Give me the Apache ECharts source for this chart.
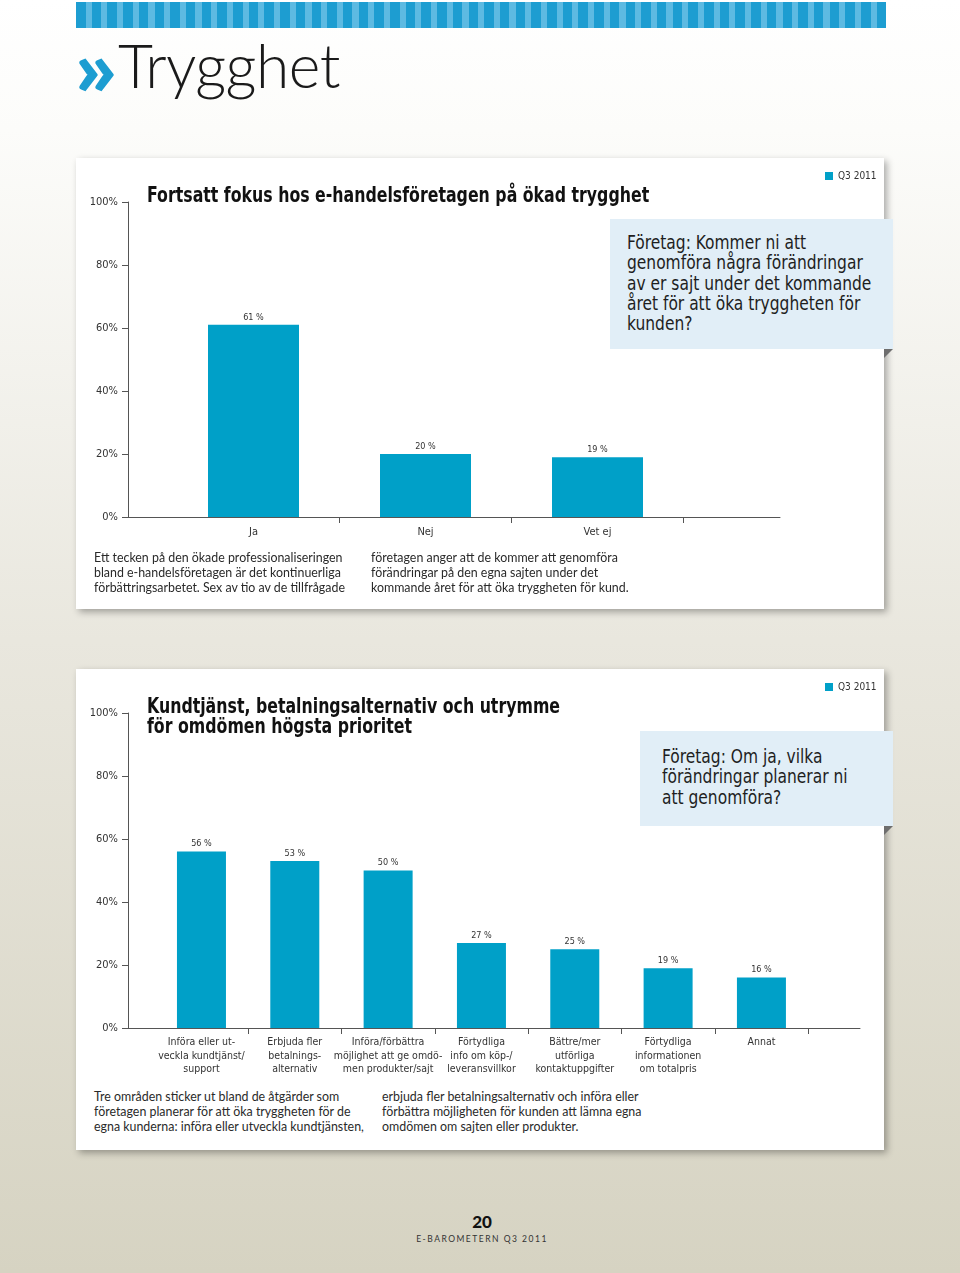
<!DOCTYPE html>
<html>
<head>
<meta charset="utf-8">
<script src="https://cdn.jsdelivr.net/npm/echarts@6/dist/echarts.min.js"></script>
<style>
  html, body { margin:0; padding:0; }
  body { width:960px; height:1273px; position:relative; overflow:hidden;
    background: linear-gradient(to bottom, #ffffff 0px, #fcfcfa 130px, #e9e7de 640px, #d6d3c2 1273px);
    font-family: 'DejaVu Sans Condensed', 'Liberation Sans Narrow', sans-serif; color:#222; }
  .abs { position:absolute; }
  #stripe { left:76px; top:2px; width:810px; height:26px;
    background: repeating-linear-gradient(to right, #1d9dd1 0px, #1d9dd1 9.5px, #5dbae2 9.5px, #5dbae2 15.7px); }
  #chev { left:74px; top:26px; font-family:'Lato','Roboto',sans-serif; font-weight:900; font-size:78px; line-height:80px; color:#1d9dd1; transform:scaleX(1.2); transform-origin:0 0; }
  #head { left:118px; top:20px; font-family:'Lato','Roboto',sans-serif; font-weight:300; font-size:60.5px; line-height:90px; color:#1a1a1a; letter-spacing:-0.5px; }
  .card { background:#fff; box-shadow: 3px 3px 7px rgba(0,0,0,0.32); }
  .qbox { background:#e1eef7; color:#1e1e1e; }
  .qtxt { font-size:20px; line-height:20.3px; white-space:nowrap; transform:scaleX(0.86); transform-origin:0 0; }
  .fold { width:0; height:0; border-top:9px solid #6e6e6e; border-right:9px solid transparent; }
  .para { font-family:'Lato','Roboto',sans-serif; font-size:12.4px; line-height:15px; color:#2a2a2a; white-space:nowrap; }
  #pg { left:0; width:964px; text-align:center; top:1211px; font-family:'Lato','Roboto',sans-serif; font-weight:900; font-size:17px; color:#111; }
  #pub { left:0; width:964px; text-align:center; top:1234px; font-family:'Lato','Roboto',sans-serif; font-size:8.5px; letter-spacing:1.5px; color:#333; }
</style>
</head>
<body>
<div id="stripe" class="abs"></div>
<div id="chev" class="abs">»</div>
<div id="head" class="abs">Trygghet</div>

<div class="abs card" style="left:76px;top:158px;width:808px;height:451px;"></div>
<div class="abs card" style="left:76px;top:669px;width:808px;height:481px;"></div>

<div id="c1" class="abs" style="left:76px;top:158px;width:830px;height:395px;"></div>
<div id="c2" class="abs" style="left:76px;top:669px;width:830px;height:415px;"></div>

<div class="abs qbox" style="left:610px;top:219px;width:266px;height:117px;padding:13px 0 0 17px;"><div class="qtxt">Företag: Kommer ni att<br>genomföra några förändringar<br>av er sajt under det kommande<br>året för att öka tryggheten för<br>kunden?</div></div>
<div class="abs fold" style="left:884px;top:349px;"></div>

<div class="abs qbox" style="left:640px;top:731px;width:231px;height:80px;padding:15px 0 0 22px;"><div class="qtxt">Företag: Om ja, vilka<br>förändringar planerar ni<br>att genomföra?</div></div>
<div class="abs fold" style="left:884px;top:826px;"></div>

<div class="abs para" style="left:94px;top:550px;">Ett tecken på den ökade professionaliseringen<br>bland e-handelsföretagen är det kontinuerliga<br>förbättringsarbetet. Sex av tio av de tillfrågade</div>
<div class="abs para" style="left:371px;top:550px;">företagen anger att de kommer att genomföra<br>förändringar på den egna sajten under det<br>kommande året för att öka tryggheten för kund.</div>

<div class="abs para" style="left:94px;top:1089px;">Tre områden sticker ut bland de åtgärder som<br>företagen planerar för att öka tryggheten för de<br>egna kunderna: införa eller utveckla kundtjänsten,</div>
<div class="abs para" style="left:382px;top:1089px;">erbjuda fler betalningsalternativ och införa eller<br>förbättra möjligheten för kunden att lämna egna<br>omdömen om sajten eller produkter.</div>

<div id="pg" class="abs">20</div>
<div id="pub" class="abs">E-BAROMETERN Q3 2011</div>

<script>
// ---- data ----
const yMin = 0, yMax = 100, yStep = 20;
const legendName = 'Q3 2011';

const title1 = 'Fortsatt fokus hos e-handelsföretagen på ökad trygghet';
const cats1 = ['Ja', 'Nej', 'Vet ej'];
const vals1 = [61, 20, 19];

const title2 = 'Kundtjänst, betalningsalternativ och utrymme\nför omdömen högsta prioritet';
const cats2 = [
  'Införa eller ut-\nveckla kundtjänst/\nsupport',
  'Erbjuda fler\nbetalnings-\nalternativ',
  'Införa/förbättra\nmöjlighet att ge omdö-\nmen produkter/sajt',
  'Förtydliga\ninfo om köp-/\nleveransvillkor',
  'Bättre/mer\nutförliga\nkontaktuppgifter',
  'Förtydliga\ninformationen\nom totalpris',
  'Annat'
];
const vals2 = [56, 53, 50, 27, 25, 19, 16];

// ---- styling ----
const FONT = "'DejaVu Sans Condensed', 'Liberation Sans Narrow', sans-serif";
const BAR = '#00a0c8';
const AX = '#555';

function build(o) {
  return {
    animation: false,
    textStyle: { fontFamily: FONT },
    graphic: [{
      type: 'text', left: 71, top: 28, scaleX: 0.835, scaleY: 1,
      style: { text: o.title, font: "bold 21px " + FONT, fill: '#111', lineHeight: 20 }
    }],
    legend: { data: [legendName], left: 749, top: 13, padding: 0, icon: 'rect', itemWidth: 8, itemHeight: 8,
      textStyle: { fontFamily: FONT, fontSize: 10, color: '#333' } },
    grid: [
      { left: 52, top: 44, height: 315, width: o.axisW },
      { left: o.bLeft, top: 44, height: 315, width: o.bW }
    ],
    xAxis: [
      { type: 'value', gridIndex: 0, min: 0, max: 1, axisLine: { show: true, lineStyle: { color: AX, width: 1 } },
        axisTick: { show: false }, axisLabel: { show: false }, splitLine: { show: false } },
      { type: 'category', gridIndex: 1, data: o.cats, axisLine: { show: false },
        axisTick: { show: true, length: 6, interval: function (i) { return i !== 0; }, lineStyle: { color: AX } },
        axisLabel: { interval: 0, margin: o.labMargin, fontFamily: FONT, fontSize: o.labSize, lineHeight: 13.5, color: '#333' } }
    ],
    yAxis: [
      { type: 'value', gridIndex: 0, min: yMin, max: yMax, interval: yStep,
        axisLine: { show: true, lineStyle: { color: AX } },
        axisTick: { show: true, length: 6, lineStyle: { color: AX } },
        axisLabel: { formatter: '{value}%', margin: 10, fontFamily: FONT, fontSize: 11, color: '#333' },
        splitLine: { show: false } },
      { type: 'value', gridIndex: 1, min: yMin, max: yMax, show: false }
    ],
    series: [{
      name: legendName, type: 'bar', xAxisIndex: 1, yAxisIndex: 1, data: o.vals, barWidth: o.barW,
      itemStyle: { color: BAR },
      label: { show: true, position: 'top', distance: 3, formatter: '{c} %', fontFamily: FONT, fontSize: 9, color: '#333' }
    }]
  };
}

const ch1 = echarts.init(document.getElementById('c1'));
ch1.setOption(build({ title: title1, cats: cats1, vals: vals1, axisW: 652, bLeft: 91.5, bW: 516, barW: 91, labMargin: 8, labSize: 11 }));

const ch2 = echarts.init(document.getElementById('c2'));
ch2.setOption(build({ title: title2, cats: cats2, vals: vals2, axisW: 732, bLeft: 78.8, bW: 653.3, barW: 49, labMargin: 8, labSize: 10.5 }));
</script>
</body>
</html>
